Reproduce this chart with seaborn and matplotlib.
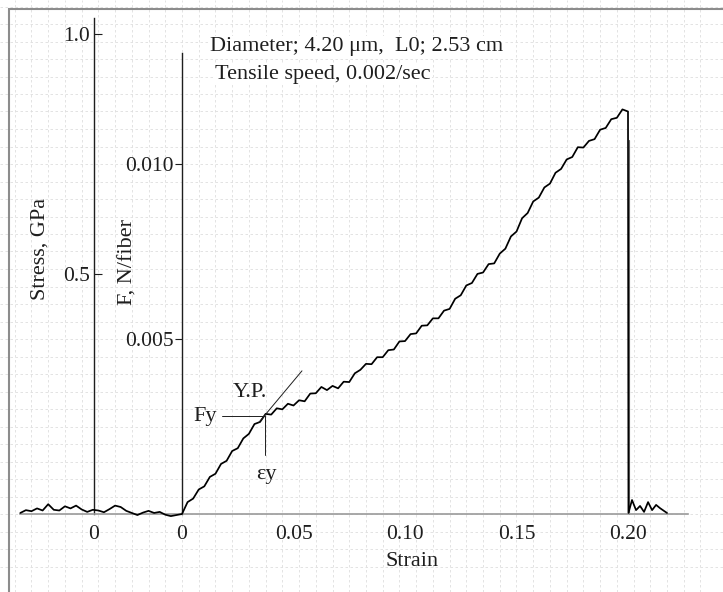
import matplotlib
matplotlib.use("Agg")
import matplotlib.pyplot as plt
from matplotlib.patches import Rectangle
import numpy as np
import pandas as pd
import seaborn as sns

# strain before loading (noise on the base line)
pre_strain = [-0.0725, -0.070, -0.0675, -0.065, -0.0625, -0.060, -0.0575, -0.055, -0.0525, -0.050,
              -0.0475, -0.045, -0.0425, -0.040, -0.0375, -0.035, -0.0325, -0.030, -0.0275, -0.025,
              -0.0225, -0.020, -0.0175, -0.015, -0.0125, -0.010, -0.0075, -0.005, -0.0025]
pre_force = [0.00003, 0.00011, 0.00008, 0.00016, 0.00010, 0.00028, 0.00012, 0.00010, 0.00022, 0.00016,
             0.00024, 0.00013, 0.00006, 0.00012, 0.00010, 0.00005, 0.00014, 0.00024, 0.00020, 0.00009,
             0.00003, -0.00003, 0.00004, 0.00009, 0.00003, 0.00006, -0.00002, -0.00006, -0.00003]

# loading curve, strain 0 -> 0.20
load_strain = [round(0.0025 * k, 4) for k in range(81)]
load_force = [0.00000, 0.00034, 0.00044, 0.00070, 0.00079, 0.00106, 0.00115, 0.00143, 0.00152, 0.00180,
              0.00188, 0.00216, 0.00229, 0.00257, 0.00263, 0.00286, 0.00284, 0.00302, 0.00299, 0.00315,
              0.00310, 0.00325, 0.00322, 0.00344, 0.00345, 0.00363, 0.00354, 0.00366, 0.00359, 0.00378,
              0.00377, 0.00402, 0.00412, 0.00429, 0.00428, 0.00448, 0.00448, 0.00468, 0.00470, 0.00493,
              0.00494, 0.00514, 0.00516, 0.00538, 0.00539, 0.00559, 0.00559, 0.00581, 0.00586, 0.00615,
              0.00625, 0.00653, 0.00660, 0.00686, 0.00690, 0.00714, 0.00716, 0.00744, 0.00758, 0.00793,
              0.00807, 0.00845, 0.00860, 0.00893, 0.00904, 0.00933, 0.00944, 0.00975, 0.00986, 0.01013,
              0.01020, 0.01048, 0.01047, 0.01066, 0.01071, 0.01098, 0.01103, 0.01128, 0.01132, 0.01156,
              0.01150]

# after the break
post_strain = [0.2002, 0.2018, 0.2036, 0.2054, 0.2072, 0.2090, 0.2108, 0.2126, 0.2143, 0.2161, 0.2175]
post_force = [0.00003, 0.00040, 0.00011, 0.00023, 0.00006, 0.00034, 0.00011, 0.00026, 0.00017, 0.00009, 0.00003]

yield_strain = 0.0372
yield_force = 0.00281

x_ticks = [-0.0398, 0.0, 0.05, 0.10, 0.15, 0.20]
x_labels = ["0", "0", "0.05", "0.10", "0.15", "0.20"]
f_ticks = [0.005, 0.010]
f_labels = ["0.005", "0.010"]
s_ticks = [0.5, 1.0]
s_labels = ["0.5", "1.0"]
N_PER_GPA = 0.0137

df = pd.DataFrame({
    "strain": pre_strain + load_strain + post_strain,
    "force": pre_force + load_force + post_force,
})

sns.set_theme(style="white")
plt.rcParams["font.family"] = ["Liberation Serif", "DejaVu Serif"]
ink = "#1e1e1e"

fig = plt.figure(figsize=(7.23, 5.92), dpi=100)
ax = fig.add_axes([0, 0, 1, 1])
xmin, xmax = -182 / 2230, (723 - 182) / 2230
ymin, ymax = -78 * 0.005 / 175, 514 * 0.005 / 175
ax.set_xlim(xmin, xmax)
ax.set_ylim(ymin, ymax)
ax.patch.set_alpha(0)

# graph paper
for gx in np.arange(-0.075, 0.24, 0.0075):
    ax.axvline(gx, color="#dedede", lw=0.6, ls=(0, (3, 3)), zorder=0)
for gy in np.arange(-0.0015, 0.0146, 0.0005):
    ax.axhline(gy, color="#dedede", lw=0.6, ls=(0, (3, 3)), zorder=0)

sns.lineplot(data=df, x="strain", y="force", ax=ax, sort=False, estimator=None,
             color="black", lw=1.25, zorder=3)

# yield point construction
ax.plot([0.0345, 0.0538], [0.00262, 0.00409], color=ink, lw=0.7, zorder=4)
ax.plot([0.0179, yield_strain], [yield_force, yield_force], color=ink, lw=0.7, zorder=4)
ax.plot([yield_strain, yield_strain], [yield_force, 0.00168], color=ink, lw=0.7, zorder=4)
ax.text(0.0305, 0.00347, "Y.P.", fontsize=16, color=ink, ha="center", va="center")
ax.text(0.0103, 0.00278, "Fy", fontsize=16, color=ink, ha="center", va="center")
ax.text(0.0377, 0.00114, "εy", fontsize=16, color=ink, ha="center", va="center")

# vertical line at break
ax.plot([0.2003, 0.2003], [0.0, 0.0107], color="#666666", lw=0.8, zorder=2)

# spines / force axis
for side in ["top", "right"]:
    ax.spines[side].set_visible(False)
ax.spines["left"].set_position(("data", 0.0))
ax.spines["left"].set_bounds(0.0, 0.01317)
ax.spines["left"].set_color(ink)
ax.spines["left"].set_linewidth(1.0)
ax.spines["bottom"].set_position(("data", 0.0))
ax.spines["bottom"].set_bounds(-0.0726, 0.2269)
ax.spines["bottom"].set_color("#9a9a9a")
ax.spines["bottom"].set_linewidth(1.2)

ax.set_yticks(f_ticks, f_labels)
ax.set_xticks(x_ticks, x_labels)
ax.tick_params(axis="y", direction="out", length=5, width=0.8, pad=1, labelsize=15.5,
               colors=ink, left=True)
ax.tick_params(axis="x", length=0, pad=8, labelsize=15.5, colors=ink)
ax.set_xlabel("")
ax.set_ylabel("")

# stress axis
loc = (-0.0395 - xmin) / (xmax - xmin)
sec = ax.secondary_yaxis(loc, functions=(lambda f: f / N_PER_GPA, lambda s: s * N_PER_GPA))
sec.set_yticks(s_ticks, s_labels)
sec.spines["left"].set_bounds(0.0, 1.034)
sec.spines["left"].set_color(ink)
sec.spines["left"].set_linewidth(1.0)
sec.tick_params(axis="y", direction="in", length=6, width=0.8, pad=3, labelsize=15.5, colors=ink)

# axis titles
W, H = 723, 592
fig.text(40 / W, 1 - 249 / H, "Stress, GPa", rotation=90, fontsize=16, color=ink,
         ha="center", va="center")
fig.text(128 / W, 1 - 262 / H, "F, N/fiber", rotation=90, fontsize=16, color=ink,
         ha="center", va="center")
fig.text(412 / W, 1 - 562 / H, "Strain", fontsize=16, color=ink, ha="center", va="center")

# header
fig.text(210 / W, 1 - 47 / H, "Diameter; 4.20 μm,  L0; 2.53 cm", fontsize=16, color=ink,
         ha="left", va="center", bbox=dict(facecolor="white", edgecolor="none", pad=1))
fig.text(215 / W, 1 - 74 / H, "Tensile speed, 0.002/sec", fontsize=16, color=ink,
         ha="left", va="center", bbox=dict(facecolor="white", edgecolor="none", pad=1))

# scan frame
fig.patches.append(Rectangle((9 / W, -0.1), 1.0, 1 - 9 / H + 0.1, transform=fig.transFigure,
                             fill=False, edgecolor="#8c8c8c", lw=1.5))

fig.savefig("out.png", dpi=100)
